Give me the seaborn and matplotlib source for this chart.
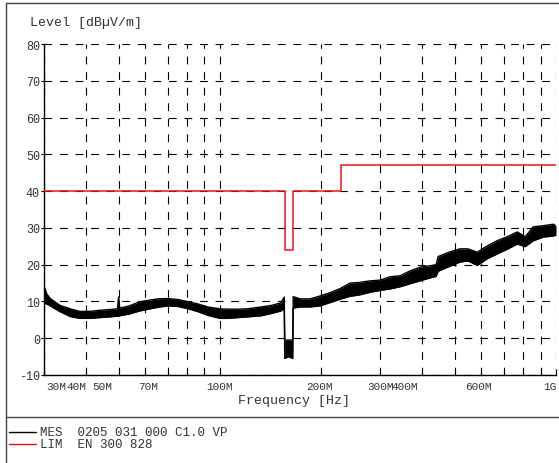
import numpy as np
import pandas as pd
import seaborn as sns
import matplotlib.pyplot as plt
from matplotlib.lines import Line2D
from matplotlib.ticker import FixedLocator, NullFormatter
from matplotlib.transforms import ScaledTranslation

mes_freq = [30.0, 30.6, 31.3, 33.5, 35.9, 38.3, 41.0, 43.9, 47.0, 49.6, 50.0, 50.4,
            53.9, 57.7, 65.3, 70.1, 75.3, 80.5, 86.2, 92.2, 100, 105.7, 113, 121,
            132.6, 141.9, 151.9, 155.5, 156.0, 160, 164.8, 165.3, 173.4, 185.7,
            198.9, 213, 228, 244, 261.5, 280, 300, 321, 344, 368, 394, 422, 440,
            446, 484, 518, 547, 583, 624, 668, 716, 767, 810, 856, 917, 982, 1000]
mes_low = [9.5, 9.3, 8.8, 7.2, 5.9, 5.4, 5.4, 5.6, 5.8, 6.0, 6.0, 6.1,
           6.6, 7.4, 8.4, 8.8, 8.6, 8.0, 7.2, 6.2, 5.4, 5.4, 5.6, 5.8,
           6.1, 6.7, 7.4, 8.0, -5.5, -5.0, -5.5, 8.2, 8.5, 8.5,
           8.8, 9.7, 10.6, 11.4, 11.8, 12.5, 13.0, 13.4, 14.0, 14.8, 15.6, 16.4, 16.8,
           18.2, 19.6, 20.7, 21.0, 19.8, 21.6, 22.9, 24.2, 25.6, 24.9, 26.5, 27.5, 27.8, 28.0]
mes_high = [14.2, 12.0, 10.8, 8.9, 8.0, 7.3, 7.3, 7.6, 7.8, 8.0, 11.2, 8.2,
            8.8, 9.9, 10.7, 10.8, 10.5, 9.9, 9.3, 8.5, 8.0, 7.9, 7.9, 8.0,
            8.5, 8.9, 9.6, 11.2, -0.5, -0.5, -0.5, 11.3, 10.7, 10.7,
            11.5, 12.4, 13.5, 15.0, 15.2, 15.6, 15.8, 16.7, 17.0, 18.3, 19.3, 19.7, 20.0,
            22.2, 23.5, 24.3, 24.3, 23.4, 25.1, 26.5, 27.6, 28.9, 27.6, 30.3, 30.6, 31.0, 30.5]

# limit line (LIM, EN 300 828), step function
lim_freq = [30, 156, 165, 230, 1000]
lim_level = [40, 24, 40, 47, 47]

y_ticks = [-10, 0, 10, 20, 30, 40, 50, 60, 70, 80]
x_major = [30, 40, 50, 70, 100, 200, 300, 400, 600, 1000]
x_labels = ['30M', '40M', '50M', '70M', '100M', '200M', '300M', '400M', '600M', '1G']
x_minor = [60, 80, 90, 500, 700, 800, 900]
# horizontal nudge of each frequency label, pixels (as printed by the receiver software)
x_label_shift = [12, -10, -16, -20, 0, -2, 0, -18, -3, -6]

mes = pd.DataFrame({'f': mes_freq, 'lo': mes_low, 'hi': mes_high})
lim = pd.DataFrame({'f': lim_freq, 'level': lim_level})

sns.set_style('white')
plt.rcParams['font.family'] = ['Liberation Mono', 'DejaVu Sans Mono']
txt_col = '#333333'

W, H = 559, 464
fig = plt.figure(figsize=(W / 100, H / 100), dpi=100)
ax = fig.add_axes([44 / W, 1 - 376 / H, 512 / W, 331 / H])

ax.fill_between(mes['f'], mes['lo'], mes['hi'], color='black', lw=0, zorder=3)
sns.lineplot(data=mes, x='f', y='hi', ax=ax, color='black', lw=1.0, estimator=None, zorder=3)
sns.lineplot(data=mes, x='f', y='lo', ax=ax, color='black', lw=1.0, estimator=None, zorder=3)
sns.lineplot(data=lim, x='f', y='level', ax=ax, color='#e8121b', lw=1.1,
             drawstyle='steps-post', estimator=None, zorder=4)

ax.set_xscale('log')
ax.set_xlim(30, 1000)
ax.set_ylim(-10, 80)
ax.xaxis.set_major_locator(FixedLocator(x_major))
ax.xaxis.set_minor_locator(FixedLocator(x_minor))
ax.xaxis.set_minor_formatter(NullFormatter())
ax.set_xticklabels(x_labels)
ax.set_yticks(y_ticks)
ax.set_yticklabels([str(v) for v in y_ticks])
ax.set_xlabel('')
ax.set_ylabel('')

ax.grid(True, which='both', color='black', lw=0.8, ls=(0, (7, 7)))
ax.set_axisbelow(True)

for s in ['top', 'right']:
    ax.spines[s].set_visible(False)
for s in ['left', 'bottom']:
    ax.spines[s].set_color('black')
    ax.spines[s].set_linewidth(1.0)

ax.tick_params(axis='x', which='both', bottom=True, direction='in', length=4.5,
               width=0.8, color='black', labelsize=8, labelcolor=txt_col, pad=4)
ax.tick_params(axis='y', which='major', left=True, direction='out', length=2.5,
               width=0.8, color='black', labelsize=8.5, labelcolor=txt_col, pad=0.5)

for lab, dx in zip(ax.get_xticklabels(), x_label_shift):
    lab.set_transform(lab.get_transform() + ScaledTranslation(dx / 100, 0, fig.dpi_scale_trans))

fig.text(30 / W, 1 - 23 / H, 'Level [dB\u00b5V/m]', fontsize=9.5, color=txt_col, va='center')
fig.text(294 / W, 1 - 401 / H, 'Frequency [Hz]', fontsize=9.5, color=txt_col,
         ha='center', va='center')

# frame and legend block
frame_col = '#444444'
fig.add_artist(Line2D([5.5 / W, 5.5 / W], [0, 1 - 4 / H], color=frame_col, lw=1))
fig.add_artist(Line2D([5.5 / W, 1], [1 - 4 / H, 1 - 4 / H], color=frame_col, lw=1))
fig.add_artist(Line2D([5.5 / W, 1], [1 - 418 / H, 1 - 418 / H], color=frame_col, lw=1))

fig.add_artist(Line2D([9 / W, 36 / W], [1 - 433 / H, 1 - 433 / H], color='black', lw=1))
fig.add_artist(Line2D([9 / W, 36 / W], [1 - 445 / H, 1 - 445 / H], color='#e8121b', lw=1))
fig.text(40 / W, 1 - 433 / H, 'MES  0205 031 000 C1.0 VP', fontsize=9, color=txt_col, va='center')
fig.text(40 / W, 1 - 445 / H, 'LIM  EN 300 828', fontsize=9, color=txt_col, va='center')

fig.savefig('out.png', dpi=100)
